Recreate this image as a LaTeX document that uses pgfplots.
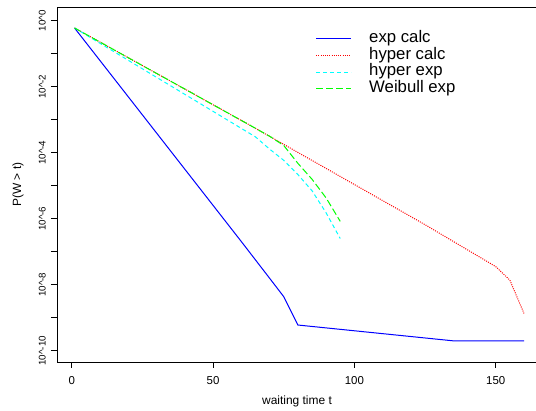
\documentclass[border=0pt]{standalone}
\usepackage{fontspec}
\setmainfont{Liberation Sans}
\usepackage{pgfplots}
\pgfplotsset{compat=1.18}
\definecolor{rblue}{RGB}{0,0,255}
\definecolor{rred}{RGB}{255,0,0}
\definecolor{rcyan}{RGB}{0,255,255}
\definecolor{rgreen}{RGB}{0,255,0}
\begin{document}
\begin{tikzpicture}
\begin{axis}[
  scale only axis,
  width=480bp, height=355bp,
  at={(0,0)}, anchor=south west,
  xmin=-5.2, xmax=164.6,
  ymode=log, log basis y=10,
  ymin=4.57e-11, ymax=2.6,
  xtick={0,50,100,150},
  ytick={1,1e-1,1e-2,1e-3,1e-4,1e-5,1e-6,1e-7,1e-8,1e-9,1e-10},
  yticklabels={10\textasciicircum 0,,10\textasciicircum -2,,10\textasciicircum -4,,10\textasciicircum -6,,10\textasciicircum -8,,10\textasciicircum -10},
  yminorticks=false,
  xtick pos=bottom, ytick pos=left,
  tick align=outside,
  major tick length=6bp,
  tick style={black, line width=0.8bp},
  axis line style={black, line width=0.8bp},
  /pgf/number format/assume math mode=true,
  xticklabel shift=8bp,
  yticklabel shift=5bp,
  xticklabel style={font=\fontsize{11.5}{12}\selectfont, inner sep=0pt, anchor=north},
  yticklabel style={font=\fontsize{9.8}{10}\selectfont, inner sep=0pt, rotate=90, anchor=south},
  xlabel={waiting time t},
  ylabel={P(W > t)},
  xlabel style={font=\fontsize{12}{12}\selectfont, at={(axis description cs:0.5,-0.1118)}, anchor=center},
  ylabel style={font=\fontsize{12}{12}\selectfont, at={(axis description cs:-0.08125,0.5)}, anchor=center, rotate=0},
  legend style={draw=none, fill=none, at={(axis description cs:0.539,0.9335)}, anchor=north west,
    inner sep=0pt, outer sep=0pt, row sep=0pt,
    font=\fontsize{16.8}{17}\selectfont,
    nodes={inner ysep=0pt, inner xsep=0pt, text height=12bp, text depth=4.6bp}},
  legend cell align=left,
  legend image code/.code={\draw[#1] (0bp,0bp) -- (35bp,0bp); \path[draw=none] (0bp,0bp) -- (53bp,0bp);},
]
\addplot[rblue, line width=1bp] coordinates {
 (1,0.6026) (60,2.04e-7) (70,1.58e-8) (75,4.37e-9) (80,6.03e-10) (135,2.0e-10) (160,2.0e-10)
};
\addlegendentry{exp calc}
\addplot[rred, line width=1bp, dash pattern=on 1bp off 1.2bp] coordinates {
 (1,0.6026) (40,8.51e-3) (65,5.50e-4) (95,1.91e-5) (125,6.61e-7) (150,3.55e-8) (155,1.38e-8) (160,1.35e-9)
};
\addlegendentry{hyper calc}
\addplot[rcyan, line width=1bp, dash pattern=on 4bp off 3bp] coordinates {
 (1,0.6026) (40,5.89e-3) (65,3.02e-4) (70,1.29e-4) (75,5.89e-5) (80,2.19e-5) (85,7.08e-6) (90,1.51e-6) (95,2.51e-7)
};
\addlegendentry{hyper exp}
\addplot[rgreen, line width=1bp, dash pattern=on 7bp off 3bp] coordinates {
 (1,0.6026) (40,8.51e-3) (65,5.50e-4) (70,3.16e-4) (75,1.66e-4) (80,4.79e-5) (85,1.58e-5) (90,4.27e-6) (95,8.32e-7)
};
\addlegendentry{Weibull exp}
\end{axis}
\pgfresetboundingbox
\path[use as bounding box] (-57bp,-49bp) rectangle (479bp,362bp);
\end{tikzpicture}
\end{document}
